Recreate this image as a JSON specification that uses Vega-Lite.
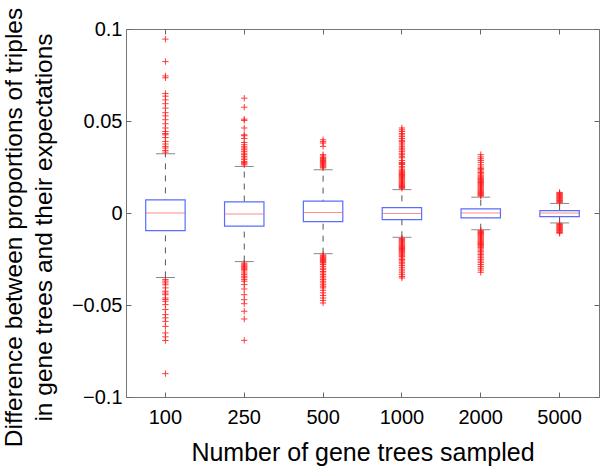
{
  "$schema": "https://vega.github.io/schema/vega-lite/v6.json",
  "width": 473,
  "height": 368,
  "autosize": "none",
  "padding": {"left": 126, "top": 29, "right": 1, "bottom": 69},
  "config": {
    "font": "Liberation Sans",
    "view": {"stroke": "#777777", "strokeWidth": 1},
    "axis": {
      "domain": false, "grid": false, "labelColor": "#000000", "titleColor": "#000000",
      "tickColor": "#666666", "labelFont": "Liberation Sans", "titleFont": "Liberation Sans",
      "labelFontSize": 20, "titleFontSize": 25, "titleFontWeight": "normal"
    }
  },
  "datasets": {
    "boxes": [
      {"n": "100", "lo": -0.035, "q1": -0.0096, "med": 0, "q3": 0.0071, "hi": 0.0322},
      {"n": "250", "lo": -0.0264, "q1": -0.0071, "med": -0.0005, "q3": 0.006, "hi": 0.0253},
      {"n": "500", "lo": -0.0221, "q1": -0.0047, "med": 0.0003, "q3": 0.0065, "hi": 0.0235},
      {"n": "1000", "lo": -0.0132, "q1": -0.0036, "med": -0.0003, "q3": 0.0029, "hi": 0.0127},
      {"n": "2000", "lo": -0.0091, "q1": -0.0027, "med": 0, "q3": 0.0022, "hi": 0.0086},
      {"n": "5000", "lo": -0.0054, "q1": -0.002, "med": 0, "q3": 0.0013, "hi": 0.0052}
    ],
    "outliers": [
      {"n":"100","v":0.0945},{"n":"100","v":0.0823},{"n":"100","v":0.0745},{"n":"100","v":0.0735},{"n":"100","v":0.065},{"n":"100","v":0.0635},{"n":"100","v":0.0615},{"n":"100","v":0.0594},{"n":"100","v":0.057},{"n":"100","v":0.0545},{"n":"100","v":0.0528},{"n":"100","v":0.0507},{"n":"100","v":0.0485},{"n":"100","v":0.0462},{"n":"100","v":0.0443},{"n":"100","v":0.0432},{"n":"100","v":0.0425},{"n":"100","v":0.041},{"n":"100","v":0.0389},{"n":"100","v":0.0375},{"n":"100","v":0.0362},{"n":"100","v":0.0353},{"n":"100","v":0.034},{"n":"100","v":0.0331},
      {"n":"100","v":-0.0362},{"n":"100","v":-0.037},{"n":"100","v":-0.038},{"n":"100","v":-0.039},{"n":"100","v":-0.0407},{"n":"100","v":-0.0425},{"n":"100","v":-0.0435},{"n":"100","v":-0.0444},{"n":"100","v":-0.0462},{"n":"100","v":-0.047},{"n":"100","v":-0.048},{"n":"100","v":-0.0498},{"n":"100","v":-0.0525},{"n":"100","v":-0.0552},{"n":"100","v":-0.057},{"n":"100","v":-0.0589},{"n":"100","v":-0.0616},{"n":"100","v":-0.0652},{"n":"100","v":-0.0673},{"n":"100","v":-0.0693},{"n":"100","v":-0.0873},
      {"n":"250","v":0.0624},{"n":"250","v":0.0575},{"n":"250","v":0.051},{"n":"250","v":0.0503},{"n":"250","v":0.0462},{"n":"250","v":0.0425},{"n":"250","v":0.042},{"n":"250","v":0.0405},{"n":"250","v":0.0383},{"n":"250","v":0.0371},{"n":"250","v":0.036},{"n":"250","v":0.0353},{"n":"250","v":0.0344},{"n":"250","v":0.0335},{"n":"250","v":0.0325},{"n":"250","v":0.0317},{"n":"250","v":0.0308},{"n":"250","v":0.0299},{"n":"250","v":0.029},{"n":"250","v":0.028},{"n":"250","v":0.0274},{"n":"250","v":0.0268},{"n":"250","v":0.0262},
      {"n":"250","v":-0.0272},{"n":"250","v":-0.0278},{"n":"250","v":-0.0284},{"n":"250","v":-0.029},{"n":"250","v":-0.0297},{"n":"250","v":-0.0303},{"n":"250","v":-0.0308},{"n":"250","v":-0.0315},{"n":"250","v":-0.0326},{"n":"250","v":-0.0335},{"n":"250","v":-0.0344},{"n":"250","v":-0.0352},{"n":"250","v":-0.0362},{"n":"250","v":-0.0371},{"n":"250","v":-0.0389},{"n":"250","v":-0.0413},{"n":"250","v":-0.0444},{"n":"250","v":-0.0471},{"n":"250","v":-0.0493},{"n":"250","v":-0.0534},{"n":"250","v":-0.0576},{"n":"250","v":-0.0692},
      {"n":"500","v":0.0398},{"n":"500","v":0.0388},{"n":"500","v":0.038},{"n":"500","v":0.0362},{"n":"500","v":0.0317},{"n":"500","v":0.031},{"n":"500","v":0.0302},{"n":"500","v":0.0296},{"n":"500","v":0.029},{"n":"500","v":0.0285},{"n":"500","v":0.028},{"n":"500","v":0.0275},{"n":"500","v":0.027},{"n":"500","v":0.0265},{"n":"500","v":0.026},{"n":"500","v":0.0255},{"n":"500","v":0.025},{"n":"500","v":0.0245},
      {"n":"500","v":-0.0228},{"n":"500","v":-0.0233},{"n":"500","v":-0.0238},{"n":"500","v":-0.0243},{"n":"500","v":-0.0248},{"n":"500","v":-0.0253},{"n":"500","v":-0.0258},{"n":"500","v":-0.0263},{"n":"500","v":-0.0268},{"n":"500","v":-0.0272},{"n":"500","v":-0.028},{"n":"500","v":-0.029},{"n":"500","v":-0.03},{"n":"500","v":-0.0308},{"n":"500","v":-0.0318},{"n":"500","v":-0.0326},{"n":"500","v":-0.0335},{"n":"500","v":-0.0344},{"n":"500","v":-0.0353},{"n":"500","v":-0.0362},{"n":"500","v":-0.0371},{"n":"500","v":-0.038},{"n":"500","v":-0.039},{"n":"500","v":-0.0398},{"n":"500","v":-0.0407},{"n":"500","v":-0.042},{"n":"500","v":-0.0434},{"n":"500","v":-0.0448},{"n":"500","v":-0.0462},{"n":"500","v":-0.0475},{"n":"500","v":-0.0489},
      {"n":"1000","v":0.0462},{"n":"1000","v":0.0452},{"n":"1000","v":0.0443},{"n":"1000","v":0.0432},{"n":"1000","v":0.0424},{"n":"1000","v":0.0415},{"n":"1000","v":0.0405},{"n":"1000","v":0.0395},{"n":"1000","v":0.0388},{"n":"1000","v":0.038},{"n":"1000","v":0.037},{"n":"1000","v":0.036},{"n":"1000","v":0.0352},{"n":"1000","v":0.0343},{"n":"1000","v":0.0335},{"n":"1000","v":0.0325},{"n":"1000","v":0.0317},{"n":"1000","v":0.0308},{"n":"1000","v":0.03},{"n":"1000","v":0.0285},{"n":"1000","v":0.0275},{"n":"1000","v":0.0271},{"n":"1000","v":0.0267},{"n":"1000","v":0.0263},{"n":"1000","v":0.0252},{"n":"1000","v":0.0245},{"n":"1000","v":0.0235},{"n":"1000","v":0.0229},{"n":"1000","v":0.0224},{"n":"1000","v":0.0219},{"n":"1000","v":0.0214},{"n":"1000","v":0.0209},{"n":"1000","v":0.0204},{"n":"1000","v":0.0199},{"n":"1000","v":0.0194},{"n":"1000","v":0.0189},{"n":"1000","v":0.0184},{"n":"1000","v":0.0179},{"n":"1000","v":0.0174},{"n":"1000","v":0.0169},{"n":"1000","v":0.0164},{"n":"1000","v":0.0159},{"n":"1000","v":0.0154},{"n":"1000","v":0.0149},{"n":"1000","v":0.0144},{"n":"1000","v":0.0139},{"n":"1000","v":0.0134},
      {"n":"1000","v":-0.0138},{"n":"1000","v":-0.0143},{"n":"1000","v":-0.0148},{"n":"1000","v":-0.0153},{"n":"1000","v":-0.0158},{"n":"1000","v":-0.0163},{"n":"1000","v":-0.0168},{"n":"1000","v":-0.0173},{"n":"1000","v":-0.0178},{"n":"1000","v":-0.0183},{"n":"1000","v":-0.0188},{"n":"1000","v":-0.0193},{"n":"1000","v":-0.0198},{"n":"1000","v":-0.0203},{"n":"1000","v":-0.0208},{"n":"1000","v":-0.0213},{"n":"1000","v":-0.0218},{"n":"1000","v":-0.0224},{"n":"1000","v":-0.023},{"n":"1000","v":-0.0237},{"n":"1000","v":-0.0245},{"n":"1000","v":-0.0253},{"n":"1000","v":-0.026},{"n":"1000","v":-0.0268},{"n":"1000","v":-0.0276},{"n":"1000","v":-0.0285},{"n":"1000","v":-0.0295},{"n":"1000","v":-0.0305},{"n":"1000","v":-0.0315},{"n":"1000","v":-0.0325},{"n":"1000","v":-0.0335},{"n":"1000","v":-0.0345},{"n":"1000","v":-0.0353},
      {"n":"2000","v":0.0317},{"n":"2000","v":0.0305},{"n":"2000","v":0.0295},{"n":"2000","v":0.0285},{"n":"2000","v":0.0275},{"n":"2000","v":0.0262},{"n":"2000","v":0.025},{"n":"2000","v":0.0242},{"n":"2000","v":0.0235},{"n":"2000","v":0.0228},{"n":"2000","v":0.022},{"n":"2000","v":0.0213},{"n":"2000","v":0.0206},{"n":"2000","v":0.02},{"n":"2000","v":0.0194},{"n":"2000","v":0.0188},{"n":"2000","v":0.0182},{"n":"2000","v":0.0176},{"n":"2000","v":0.0171},{"n":"2000","v":0.0166},{"n":"2000","v":0.0161},{"n":"2000","v":0.0156},{"n":"2000","v":0.0151},{"n":"2000","v":0.0146},{"n":"2000","v":0.0141},{"n":"2000","v":0.0136},{"n":"2000","v":0.0131},{"n":"2000","v":0.0126},{"n":"2000","v":0.0121},{"n":"2000","v":0.0116},{"n":"2000","v":0.0111},{"n":"2000","v":0.0106},{"n":"2000","v":0.0101},{"n":"2000","v":0.0096},{"n":"2000","v":0.0092},
      {"n":"2000","v":-0.0096},{"n":"2000","v":-0.0101},{"n":"2000","v":-0.0106},{"n":"2000","v":-0.0111},{"n":"2000","v":-0.0116},{"n":"2000","v":-0.0121},{"n":"2000","v":-0.0126},{"n":"2000","v":-0.0131},{"n":"2000","v":-0.0136},{"n":"2000","v":-0.0141},{"n":"2000","v":-0.0146},{"n":"2000","v":-0.0151},{"n":"2000","v":-0.0156},{"n":"2000","v":-0.0161},{"n":"2000","v":-0.0166},{"n":"2000","v":-0.0171},{"n":"2000","v":-0.0176},{"n":"2000","v":-0.0181},{"n":"2000","v":-0.0188},{"n":"2000","v":-0.0195},{"n":"2000","v":-0.0202},{"n":"2000","v":-0.021},{"n":"2000","v":-0.0218},{"n":"2000","v":-0.0226},{"n":"2000","v":-0.0234},{"n":"2000","v":-0.0243},{"n":"2000","v":-0.0252},{"n":"2000","v":-0.0261},{"n":"2000","v":-0.027},{"n":"2000","v":-0.028},{"n":"2000","v":-0.029},{"n":"2000","v":-0.03},{"n":"2000","v":-0.031},{"n":"2000","v":-0.0322},
      {"n":"5000","v":0.0112},{"n":"5000","v":0.0108},{"n":"5000","v":0.0104},{"n":"5000","v":0.01},{"n":"5000","v":0.0096},{"n":"5000","v":0.0092},{"n":"5000","v":0.0088},{"n":"5000","v":0.0084},{"n":"5000","v":0.008},{"n":"5000","v":0.0076},{"n":"5000","v":0.0072},{"n":"5000","v":0.0068},{"n":"5000","v":0.0064},{"n":"5000","v":0.006},{"n":"5000","v":0.0056},
      {"n":"5000","v":-0.0058},{"n":"5000","v":-0.0062},{"n":"5000","v":-0.0066},{"n":"5000","v":-0.007},{"n":"5000","v":-0.0074},{"n":"5000","v":-0.0078},{"n":"5000","v":-0.0082},{"n":"5000","v":-0.0086},{"n":"5000","v":-0.009},{"n":"5000","v":-0.0094},{"n":"5000","v":-0.0098},{"n":"5000","v":-0.0102},{"n":"5000","v":-0.0106},{"n":"5000","v":-0.011}
    ]
  },
  "resolve": {"axis": {"x": "independent", "y": "independent"}},
  "layer": [
    {
      "data": {"name": "boxes"},
      "mark": {"type": "rule", "color": "#555555", "strokeWidth": 1, "strokeDash": [6, 6]},
      "encoding": {
        "x": {"field": "n", "type": "nominal", "sort": null, "scale": {"type": "band", "domain": ["100","250","500","1000","2000","5000"], "paddingInner": 0, "paddingOuter": 0}, "axis": null},
        "y": {"field": "lo", "type": "quantitative", "scale": {"domain": [-0.1, 0.1], "nice": false, "zero": false}, "axis": null},
        "y2": {"field": "hi"}
      }
    },
    {
      "data": {"name": "boxes"},
      "mark": {"type": "tick", "color": "#555555", "size": 19, "thickness": 1},
      "encoding": {
        "x": {"field": "n", "type": "nominal", "sort": null, "axis": {"orient": "top", "labels": false, "title": null, "tickSize": -5, "ticks": true}},
        "y": {"field": "hi", "type": "quantitative", "axis": {"orient": "right", "labels": false, "title": null, "tickSize": -5, "values": [-0.1, -0.05, 0, 0.05, 0.1]}}
      }
    },
    {
      "data": {"name": "boxes"},
      "mark": {"type": "tick", "color": "#555555", "size": 19, "thickness": 1},
      "encoding": {
        "x": {"field": "n", "type": "nominal", "sort": null, "axis": null},
        "y": {"field": "lo", "type": "quantitative", "axis": null}
      }
    },
    {
      "data": {"name": "boxes"},
      "mark": {"type": "bar", "fill": "#ffffff", "stroke": "#5a6cff", "strokeWidth": 1.2, "width": {"band": 0.5}},
      "encoding": {
        "x": {"field": "n", "type": "nominal", "sort": null, "axis": {"orient": "bottom", "title": "Number of gene trees sampled", "labelAngle": 0, "tickSize": -5, "labelPadding": 15, "titleBaseline": "alphabetic", "titleY": 63}},
        "y": {"field": "q1", "type": "quantitative", "axis": {"orient": "left", "values": [-0.1, -0.05, 0, 0.05, 0.1], "format": "~g", "tickSize": -5, "labelPadding": 9, "title": ["Difference between proportions of triples", "in gene trees and their expectations"], "titleLineHeight": 30, "titleFontSize": 24.5, "titleBaseline": "alphabetic", "titleAlign": "center", "titleAngle": -90, "titleX": -105, "titleY": 198}},
        "y2": {"field": "q3"}
      }
    },
    {
      "data": {"name": "boxes"},
      "mark": {"type": "tick", "color": "#ff5a5a", "size": 39, "thickness": 1},
      "encoding": {
        "x": {"field": "n", "type": "nominal", "sort": null, "axis": null},
        "y": {"field": "med", "type": "quantitative", "axis": null}
      }
    },
    {
      "data": {"name": "outliers"},
      "mark": {"type": "point", "shape": "M-1,0L1,0M0,-1L0,1", "filled": false, "stroke": "#ff1a1a", "strokeWidth": 1, "size": 40, "opacity": 0.85},
      "encoding": {
        "x": {"field": "n", "type": "nominal", "sort": null, "axis": null},
        "y": {"field": "v", "type": "quantitative", "axis": null}
      }
    }
  ]
}
